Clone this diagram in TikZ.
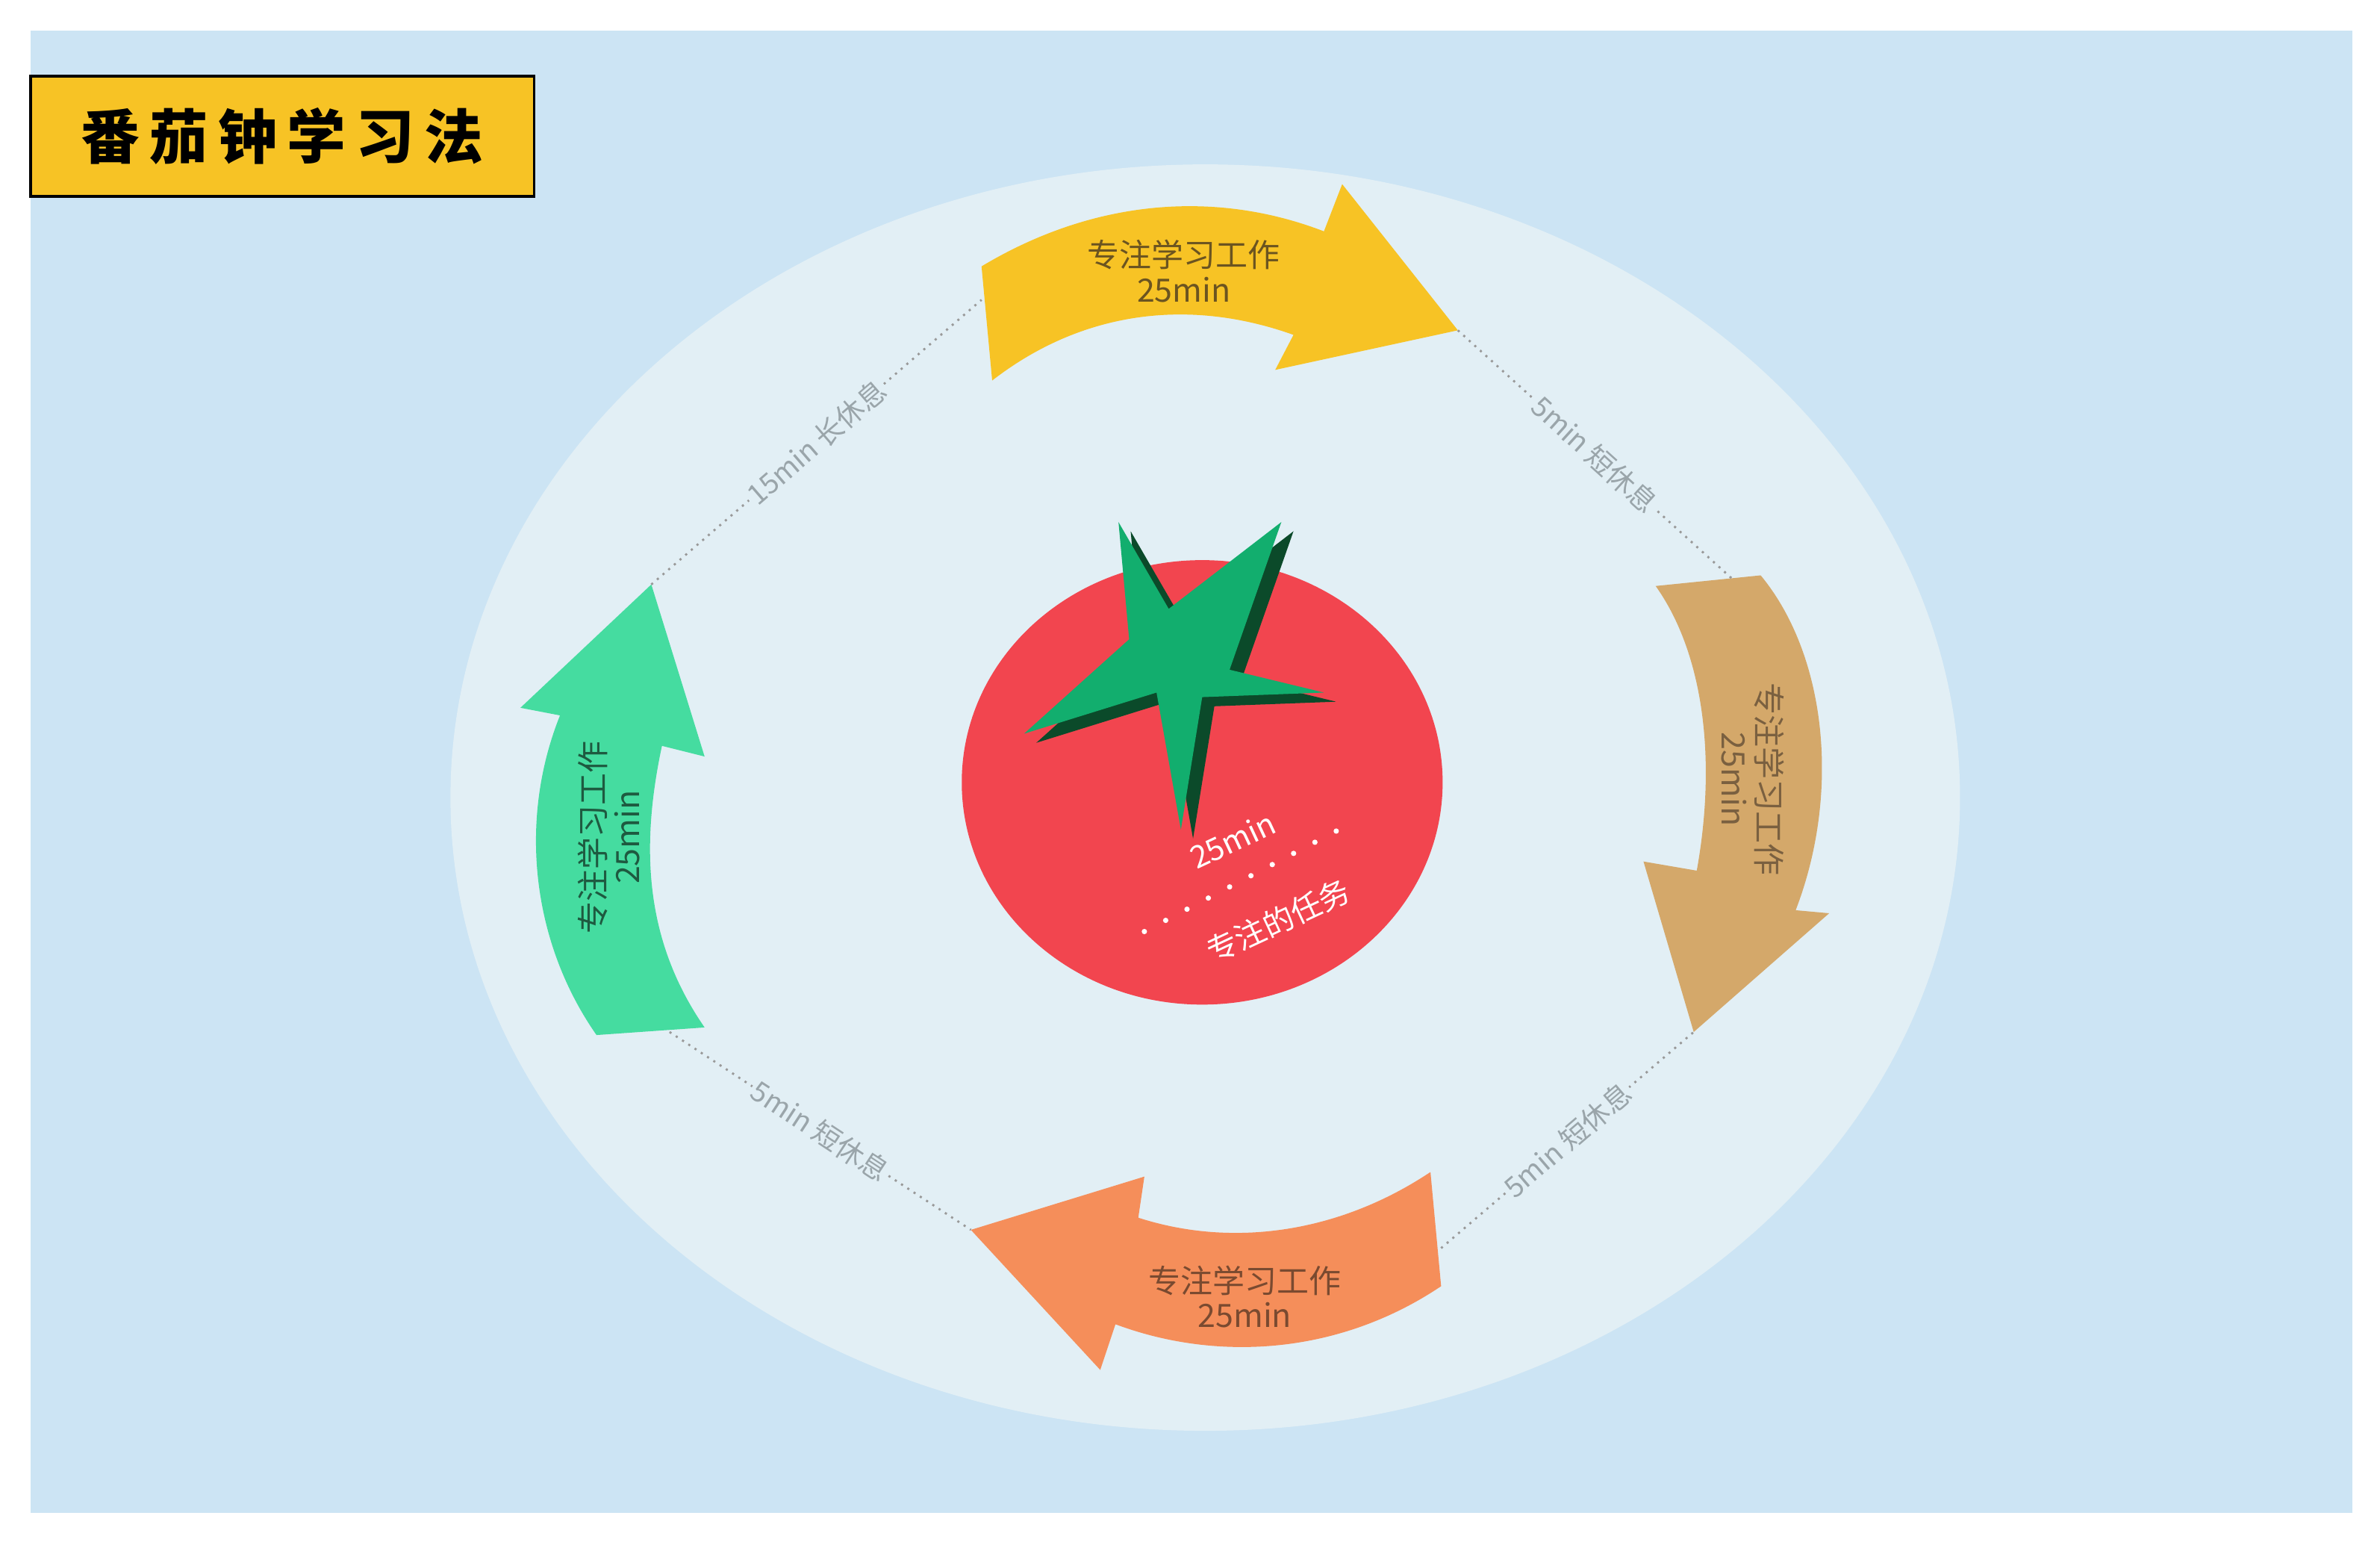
\documentclass[tikz,border=0pt]{standalone}
\usepackage{fontspec}
\setmainfont{Noto Sans CJK SC}
\definecolor{bgblue}{HTML}{CCE4F4}
\definecolor{ellc}{HTML}{E2EFF5}
\definecolor{ttl}{HTML}{F7C325}
\definecolor{tom}{HTML}{F2454F}
\definecolor{leaf}{HTML}{12AE6E}
\definecolor{leafd}{HTML}{0B4A2A}
\definecolor{ayel}{HTML}{F7C325}
\definecolor{atan}{HTML}{D4A86A}
\definecolor{aor}{HTML}{F58E5A}
\definecolor{agr}{HTML}{45DCA0}
\definecolor{lbl}{HTML}{9AA5AA}
\tikzset{
 arrtxt/.style={font=\fontsize{12}{13}\selectfont, align=center, inner sep=0pt},
 restlbl/.style={font=\fontsize{10.5}{12}\selectfont, text=lbl, fill=ellc, inner sep=1pt, sloped, midway},
 restline/.style={dotted, draw=gray!80, line width=0.8pt}
}
\begin{document}
\begin{tikzpicture}[x=0.02cm,y=-0.02cm]
\useasboundingbox (0,0) rectangle (1564,1013);
\fill[white] (0,0) rectangle (1564,1013);
\fill[bgblue] (20,20) rectangle (1546,994);
\fill[ellc] (792,524) ellipse [x radius=496, y radius=416];
% title
\node[draw=black, line width=1pt, fill=ttl, minimum width=331*0.02cm, minimum height=79*0.02cm, font=\fontsize{22}{24}\selectfont\bfseries] (title) at (185.5,89.5) {番\,茄\,钟\,学\,习\,法};
% tomato
\fill[tom] (790,514) ellipse [x radius=158, y radius=146];
\fill[leafd,shift={(8,6)}] (735,343) -- (768,400) -- (842,343) -- (808,440) -- (870,455) -- (790,458) -- (776,545) -- (760,455) -- (673,482) -- (742,420) -- cycle;
\fill[leaf] (735,343) -- (768,400) -- (842,343) -- (808,440) -- (870,455) -- (790,458) -- (776,545) -- (760,455) -- (673,482) -- (742,420) -- cycle;
\node[text=white, rotate=25, font=\fontsize{11.5}{13}\selectfont] (tm) at (810,552) {25min};
\coordinate (d1) at (752,612); \coordinate (d2) at (880,545);
\draw[white, line width=2pt, dash pattern=on 0pt off 9pt, line cap=round] (d1) -- (d2);
\node[text=white, rotate=25, font=\fontsize{11.5}{13}\selectfont] (tt) at (840,605) {专注的任务};
% arrows
\fill[ayel] (645,175) .. controls (720,130) and (800,125) .. (870,152) -- (882,121) -- (958,217) -- (838,243) -- (850,220) .. controls (780,195) and (710,205) .. (652,250) -- cycle;
\node[arrtxt, text={rgb,255:red,107;green,84;blue,32}] (a1) at (778,178) {专注学习工作\\25min};
\fill[atan] (1088,385) -- (1157,378) .. controls (1200,430) and (1210,520) .. (1180,598) -- (1202,600) -- (1113,678) -- (1080,566) -- (1115,572) .. controls (1128,500) and (1120,430) .. (1088,385) -- cycle;
\node[arrtxt, rotate=-90, text={rgb,255:red,122;green,96;blue,64}] (a2) at (1152,512) {专注学习工作\\25min};
\fill[aor] (940,770) -- (947,845) .. controls (880,890) and (800,895) .. (733,870) -- (723,900) -- (638,808) -- (752,773) -- (748,800) .. controls (810,820) and (880,810) .. (940,770) -- cycle;
\node[arrtxt, text={rgb,255:red,122;green,74;blue,48}] (a3) at (818,852) {专注学习工作\\25min};
\fill[agr] (392,680) .. controls (350,620) and (340,540) .. (368,470) -- (342,465) -- (428,384) -- (463,497) -- (435,490) .. controls (420,560) and (425,620) .. (463,675) -- cycle;
\node[arrtxt, rotate=90, text={rgb,255:red,30;green,90;blue,64}] (a4) at (400,550) {专注学习工作\\25min};
% rest connectors
\coordinate (p1) at (428,384); \coordinate (p2) at (645,197);
\coordinate (p3) at (958,217); \coordinate (p4) at (1138,380);
\coordinate (p5) at (1113,678); \coordinate (p6) at (947,820);
\coordinate (p7) at (638,808); \coordinate (p8) at (440,678);
\draw[restline] (p1) -- node[restlbl] {15min 长休息} (p2);
\draw[restline] (p3) -- node[restlbl] {5min 短休息} (p4);
\draw[restline] (p6) -- node[restlbl] {5min 短休息} (p5);
\draw[restline] (p8) -- node[restlbl] {5min 短休息} (p7);
\end{tikzpicture}
\end{document}
